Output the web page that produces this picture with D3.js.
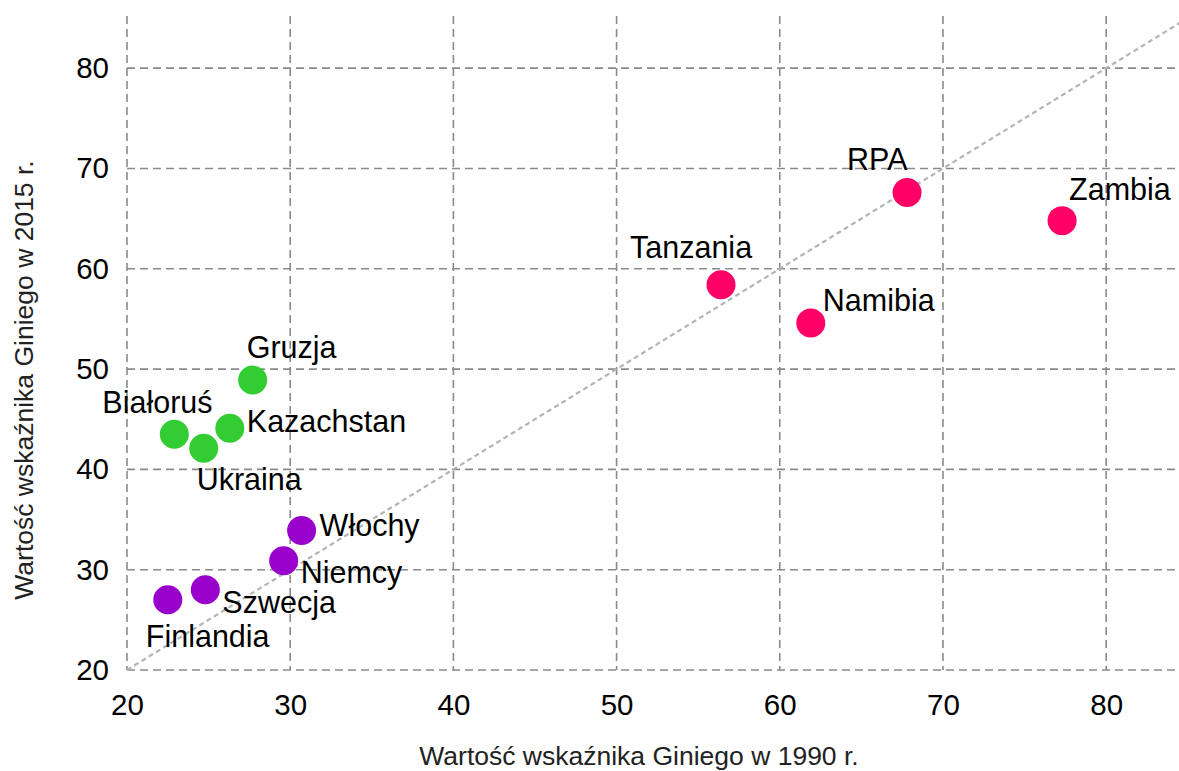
<!DOCTYPE html>
<html>
<head>
<meta charset="utf-8">
<script src="https://cdn.jsdelivr.net/npm/d3@7"></script>
<style>
  html, body { margin: 0; padding: 0; background: #fff; }
  svg { display: block; font-family: "Liberation Sans", Arial, sans-serif; }
</style>
</head>
<body>
<svg id="chart" width="1179" height="771"></svg>
<script>
// ---- data ----
const countries = ["Finlandia", "Szwecja", "Niemcy", "Włochy", "Białoruś", "Ukraina", "Kazachstan", "Gruzja", "Tanzania", "Namibia", "RPA", "Zambia"];
const gini1990  = [22.5, 24.8, 29.6, 30.7, 22.9, 24.7, 26.3, 27.7, 56.4, 61.9, 67.8, 77.3];
const gini2015  = [27.0, 28.0, 30.9, 33.9, 43.5, 42.1, 44.1, 48.9, 58.4, 54.6, 67.6, 64.8];
const groups    = ["europe", "europe", "europe", "europe", "postsoviet", "postsoviet", "postsoviet", "postsoviet", "africa", "africa", "africa", "africa"];
const xTicks = [20, 30, 40, 50, 60, 70, 80];
const yTicks = [20, 30, 40, 50, 60, 70, 80];
const xTitle = "Wartość wskaźnika Giniego w 1990 r.";
const yTitle = "Wartość wskaźnika Giniego w 2015 r.";

// ---- styling / layout ----
const groupColor = { europe: "#9900cc", postsoviet: "#33cc33", africa: "#ff0066" };
// label offsets [dx, dy] relative to point centre (text start, baseline)
const labelOffsets = [[-22, 47], [17, 23], [17, 22], [18, 5], [-72, -21], [-7, 42], [17, 4], [-6, -22], [-91, -27], [12, -12], [-60, -23], [7, -21]];

const svg = d3.select("#chart");
const x = d3.scaleLinear().domain([20, 84.5]).range([127, 1179.6]);
const y = d3.scaleLinear().domain([20, 85.2]).range([670, 16]);

const grid = svg.append("g");
// vertical gridlines
grid.selectAll("line.v").data(xTicks).join("line")
  .attr("x1", d => x(d)).attr("x2", d => x(d))
  .attr("y1", y(85.2)).attr("y2", y(20))
  .attr("stroke", "#8a8a8a").attr("stroke-width", 1.6)
  .attr("stroke-dasharray", "8,5");
// horizontal gridlines
grid.selectAll("line.h").data(yTicks).join("line")
  .attr("x1", x(20)).attr("x2", x(84.5))
  .attr("y1", d => y(d)).attr("y2", d => y(d))
  .attr("stroke", "#8a8a8a").attr("stroke-width", 1.6)
  .attr("stroke-dasharray", "8,5");

// diagonal y = x
svg.append("line")
  .attr("x1", x(20)).attr("y1", y(20))
  .attr("x2", x(84.5)).attr("y2", y(84.5))
  .attr("stroke", "#b4b4b4").attr("stroke-width", 2.2)
  .attr("stroke-dasharray", "5,3.5");

// axes (tick labels only)
const xAxis = svg.append("g").attr("transform", `translate(0,${y(20)})`)
  .call(d3.axisBottom(x).tickValues(xTicks).tickSize(0).tickPadding(24));
xAxis.select(".domain").remove();
xAxis.selectAll("text").attr("font-size", 29.5).attr("fill", "#000")
  .attr("font-family", "Liberation Sans, Arial, sans-serif");

const yAxis = svg.append("g").attr("transform", `translate(${x(20)},0)`)
  .call(d3.axisLeft(y).tickValues(yTicks).tickSize(0).tickPadding(18));
yAxis.select(".domain").remove();
yAxis.selectAll("text").attr("font-size", 29.5).attr("fill", "#000")
  .attr("font-family", "Liberation Sans, Arial, sans-serif");

// axis titles
svg.append("text")
  .attr("x", 639).attr("y", 765)
  .attr("text-anchor", "middle")
  .attr("font-size", 26.5).attr("fill", "#222")
  .text(xTitle);
svg.append("text")
  .attr("transform", `translate(33,380) rotate(-90)`)
  .attr("text-anchor", "middle")
  .attr("font-size", 26.5).attr("fill", "#222")
  .text(yTitle);

// points
const pts = countries.map((c, i) => ({ c, x: gini1990[i], y: gini2015[i], g: groups[i], off: labelOffsets[i] }));
svg.append("g").selectAll("circle").data(pts).join("circle")
  .attr("cx", d => x(d.x)).attr("cy", d => y(d.y))
  .attr("r", 14.5)
  .attr("fill", d => groupColor[d.g]);

// labels
svg.append("g").selectAll("text").data(pts).join("text")
  .attr("x", d => x(d.x) + d.off[0]).attr("y", d => y(d.y) + d.off[1])
  .attr("font-size", 30.5).attr("fill", "#000")
  .text(d => d.c);
</script>
</body>
</html>
